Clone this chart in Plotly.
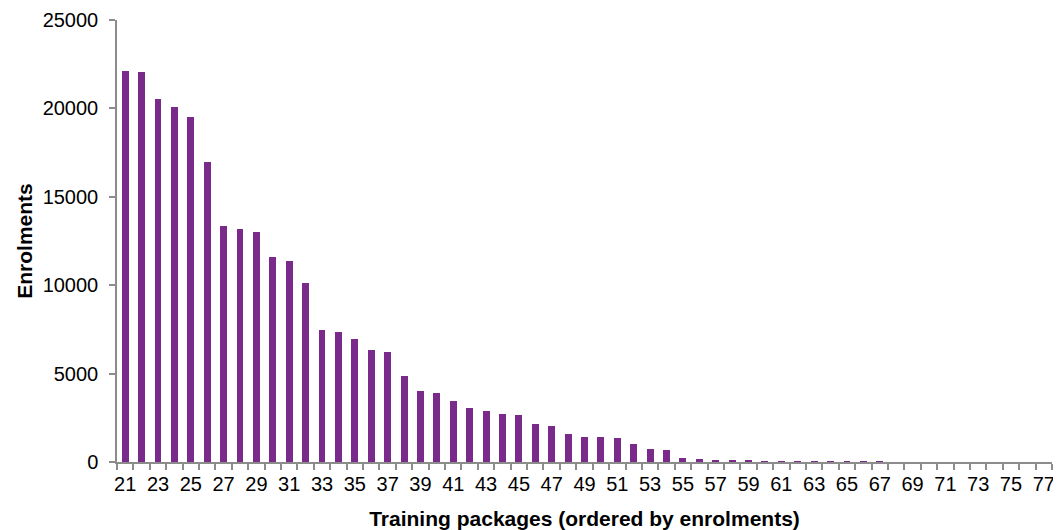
import plotly.graph_objects as go

packages = list(range(21, 78))
enrolments = [
    22100, 22080, 20560, 20080, 19530, 16970, 13350, 13200, 13030, 11570,
    11350, 10150, 7460, 7370, 6960, 6340, 6200, 4890, 4030, 3880,
    3470, 3070, 2870, 2740, 2660, 2150, 2020, 1610, 1420, 1390,
    1350, 1010, 730, 690, 220, 170, 110, 90, 60, 50,
    30, 30, 20, 10, 10, 5, 5, 0, 0, 0,
    0, 0, 0, 0, 0, 0, 0,
]
tick_labels = [str(v) for v in range(21, 78, 2)]
tick_positions = list(range(21, 78, 2))

fig = go.Figure(go.Bar(
    x=packages, y=enrolments,
    marker=dict(color="#7A2A8A", line=dict(width=0)),
    width=0.42,
))

font_family = "Liberation Sans, Arial, sans-serif"
axis_color = "#8C8C8C"

fig.update_layout(
    width=1053, height=522,
    margin=dict(l=109, r=9, t=12, b=68, autoexpand=False),
    paper_bgcolor="white", plot_bgcolor="white",
    font=dict(family=font_family, size=20, color="black"),
    showlegend=False,
    bargap=0,
)
fig.update_xaxes(
    range=[20.5, 77.5], automargin=False,
    tickmode="array", tickvals=tick_positions, ticktext=tick_labels,
    ticks="", showgrid=False, zeroline=False,
    showline=True, linecolor=axis_color, linewidth=1.5,
    tickfont=dict(size=20), ticklabelstandoff=3, ticklabeloverflow="allow",
    minor=dict(tickmode="linear", tick0=20.5, dtick=1, ticks="outside",
               ticklen=6, tickcolor=axis_color, tickwidth=1.5, showgrid=False),
    title=dict(text="<b>Training packages (ordered by enrolments)</b>",
               font=dict(size=21), standoff=18),
)
fig.update_yaxes(
    range=[0, 25000], tickmode="linear", tick0=0, dtick=5000, tickformat="d",
    automargin=False,
    ticks="outside", ticklen=6, tickcolor=axis_color, tickwidth=1.5,
    showgrid=False, zeroline=False,
    showline=True, linecolor=axis_color, linewidth=1.5,
    tickfont=dict(size=20), ticklabelstandoff=7, ticklabeloverflow="allow",
    title=dict(text="<b>Enrolments</b>", font=dict(size=21), standoff=4),
)

fig.write_html("out.html")
